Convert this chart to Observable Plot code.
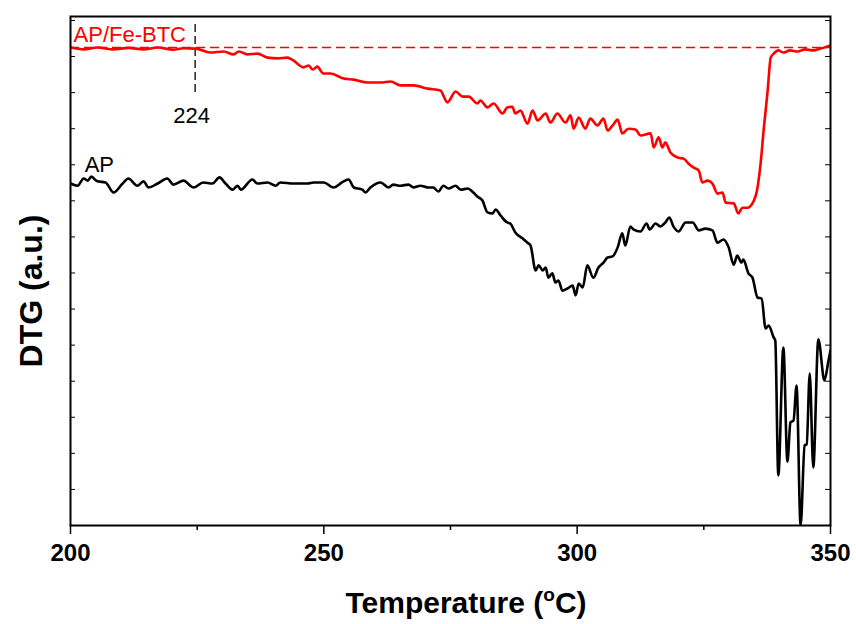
<!DOCTYPE html>
<html><head><meta charset="utf-8">
<script src="https://cdn.jsdelivr.net/npm/d3@7"></script>
<script src="https://cdn.jsdelivr.net/npm/@observablehq/plot@0.6"></script>
<style>body{margin:0;background:#fff}</style>
</head><body><div id="chart"></div>
<script>
// AP/Fe-BTC DTG curve (temperature in °C, DTG in arbitrary units)
const tempFe = [200.0,202.6,205.3,208.5,211.4,214.4,217.2,220.3,222.3,224.7,227.6,230.2,232.2,233.2,234.9,236.9,238.9,240.9,242.8,244.0,246.0,247.0,247.8,248.7,249.9,251.3,253.9,255.9,258.6,261.2,263.2,265.1,267.7,270.5,273.0,274.4,276.0,277.4,278.6,280.3,280.9,282.3,283.5,285.3,286.2,287.2,287.8,288.8,290.2,291.2,292.2,293.8,294.7,296.1,297.7,298.7,299.3,300.3,301.6,302.6,304.0,305.2,306.0,307.0,308.0,308.9,310.1,311.5,312.5,314.5,315.1,316.1,316.8,317.4,318.4,319.8,321.0,322.0,323.0,324.0,324.7,325.7,326.7,327.7,328.7,329.3,330.9,331.8,332.6,333.6,334.6,335.6,336.2,336.8,337.6,338.2,338.8,339.7,340.7,342.0,343.5,345.0,346.6,348.0,350.0];
const dtgFe = [13.25,13.20,13.25,13.20,13.24,13.20,13.25,13.19,13.23,13.22,13.11,13.14,13.06,13.14,13.06,13.08,12.97,12.95,12.97,12.89,12.70,12.75,12.64,12.72,12.53,12.53,12.39,12.36,12.28,12.28,12.31,12.20,12.20,12.11,12.06,11.73,12.03,11.89,11.89,11.70,11.78,11.59,11.70,11.42,11.59,11.61,11.42,11.50,11.14,11.50,11.23,11.42,11.17,11.42,11.17,11.37,11.00,11.31,11.00,11.28,11.09,11.28,10.95,11.09,11.25,10.87,11.00,10.98,10.81,10.87,10.48,10.76,10.48,10.62,10.34,10.20,10.17,10.03,9.92,9.84,9.51,9.56,9.48,9.20,9.23,8.95,8.93,8.65,8.81,8.81,8.93,9.37,10.03,10.95,12.06,12.97,13.08,13.17,13.11,13.17,13.14,13.20,13.17,13.22,13.31];

// AP DTG curve
const tempAP = [200.0,201.4,202.6,203.4,204.1,205.3,206.9,208.5,210.3,211.4,213.2,214.4,215.4,217.2,219.1,220.3,222.3,224.3,226.2,228.0,229.4,230.6,232.0,233.0,233.6,235.9,236.9,238.9,240.5,241.4,244.0,246.8,248.0,250.0,251.9,253.9,254.9,255.9,257.6,258.2,259.2,261.2,262.8,263.7,265.1,266.7,267.7,269.1,270.5,271.6,272.6,273.6,274.6,276.0,277.0,278.4,279.5,280.3,281.3,282.3,283.3,283.9,284.9,286.2,286.8,287.8,289.2,290.2,290.8,291.8,292.4,293.2,293.8,294.3,295.1,295.7,296.3,297.1,298.1,299.1,299.7,300.3,301.1,302.0,303.2,304.2,305.2,306.0,307.0,308.0,308.9,309.5,310.5,311.1,312.5,313.7,314.3,315.5,316.4,317.4,318.2,319.0,320.0,321.4,322.8,324.0,325.3,326.7,327.7,328.9,329.9,330.9,331.6,332.4,332.8,333.8,334.6,335.6,336.4,337.2,337.8,338.8,339.1,339.7,340.7,341.5,342.1,342.7,343.3,344.1,344.9,345.3,345.9,346.6,347.6,348.8,349.6,350.0];
const dtgAP = [9.48,9.42,9.62,9.56,9.67,9.54,9.51,9.23,9.48,9.62,9.42,9.54,9.37,9.48,9.62,9.45,9.56,9.37,9.51,9.48,9.65,9.48,9.31,9.42,9.31,9.59,9.48,9.51,9.42,9.51,9.48,9.48,9.51,9.51,9.37,9.54,9.59,9.37,9.31,9.23,9.37,9.51,9.37,9.45,9.42,9.45,9.37,9.42,9.37,9.37,9.26,9.42,9.34,9.42,9.31,9.34,9.23,9.12,9.01,8.68,8.65,8.76,8.59,8.40,8.37,8.12,7.96,7.84,7.76,7.07,7.21,7.07,7.15,6.87,6.99,6.74,6.79,6.51,6.57,6.65,6.38,6.71,6.60,7.21,6.87,7.15,7.29,7.43,7.46,7.71,8.10,7.76,8.29,8.21,8.15,8.37,8.21,8.37,8.29,8.40,8.54,8.29,8.15,8.40,8.40,8.18,8.23,8.18,7.84,7.93,7.71,7.23,7.48,7.29,7.37,6.99,6.87,6.32,6.29,5.46,5.54,5.21,5.13,1.39,4.93,1.77,2.86,2.91,3.88,0.00,2.22,2.25,4.21,1.61,5.16,4.02,4.57,4.85];

// annotations
const baselineFe = 13.25;
const onsetT = 224.6;
const onsetRange = [12.0, 14.0];
const onsetLabel = "224";
const seriesLabels = ["AP/Fe-BTC", "AP"];
const labelPos = [{x: 200.6, y: 13.39}, {x: 202.8, y: 9.79}];

// axes
const xDomain = [200, 350];
const yDomain = [0, 14.11];
const xMajor = [200, 250, 300, 350];
const xMinor = [225, 275, 325];
const yTicks = d3.range(0, 15);
const xTitle = "Temperature (";
const yTitle = "DTG (a.u.)";

const fe = tempFe.map((t, i) => ({t, v: dtgFe[i]}));
const ap = tempAP.map((t, i) => ({t, v: dtgAP[i]}));

const W = 856, H = 624, ML = 70, MR = 26, MT = 16, MB = 99;

const chart = Plot.plot({
  width: W, height: H,
  marginLeft: ML, marginRight: MR, marginTop: MT, marginBottom: MB,
  style: {fontFamily: "'Liberation Sans', Arial, sans-serif", background: "white", color: "black"},
  x: {domain: xDomain},
  y: {domain: yDomain, axis: null},
  marks: [
    Plot.ruleY([baselineFe], {stroke: "#ff0000", strokeWidth: 1.5, strokeDasharray: "9,5"}),
    Plot.ruleX([onsetT], {x: d => d, y1: onsetRange[0], y2: onsetRange[1], stroke: "black", strokeWidth: 1.3, strokeDasharray: "8,4"}),
    Plot.line(ap, {x: "t", y: "v", stroke: "black", strokeWidth: 2.6, curve: "monotone-x", clip: true}),
    Plot.line(fe, {x: "t", y: "v", stroke: "#ff0000", strokeWidth: 2.6, curve: "monotone-x", clip: true}),
    Plot.tickY(yTicks, {y: d => d, insetRight: W - ML - MR - 5, stroke: "black", strokeWidth: 1}),
    Plot.tickY(yTicks, {y: d => d, insetLeft: W - ML - MR - 5, stroke: "black", strokeWidth: 1}),
    Plot.axisX({ticks: xMajor, tickSize: 9, tickPadding: 9, fontSize: 24, fontWeight: "bold", label: null, tickFormat: d => String(d), strokeWidth: 1.5}),
    Plot.axisX({ticks: xMinor, tickSize: 5, tickFormat: () => "", label: null, strokeWidth: 1.5}),
    Plot.frame({stroke: "black", strokeWidth: 2}),
    Plot.text([seriesLabels[0]], {x: labelPos[0].x, y: labelPos[0].y, text: d => d, fill: "#ff0000", fontSize: 22, textAnchor: "start", lineAnchor: "bottom"}),
    Plot.text([seriesLabels[1]], {x: labelPos[1].x, y: labelPos[1].y, text: d => d, fill: "black", fontSize: 22, textAnchor: "start", lineAnchor: "bottom"}),
    Plot.text([onsetLabel], {x: onsetT - 0.7, y: 11.17, text: d => d, fill: "black", fontSize: 22, textAnchor: "middle", lineAnchor: "bottom"})
  ]
});

const svg = d3.select(chart);
const xt = svg.append("text")
  .attr("x", 466).attr("y", 613)
  .attr("text-anchor", "middle")
  .attr("font-size", 30).attr("font-weight", "bold")
  .attr("font-family", "'Liberation Sans', Arial, sans-serif")
  .attr("fill", "black");
xt.append("tspan").text(xTitle);
xt.append("tspan").attr("font-size", 19).attr("dy", -12).text("o");
xt.append("tspan").attr("dy", 12).text("C)");

svg.append("text")
  .attr("transform", "translate(42,291) rotate(-90)")
  .attr("text-anchor", "middle")
  .attr("font-size", 32).attr("font-weight", "bold")
  .attr("font-family", "'Liberation Sans', Arial, sans-serif")
  .attr("fill", "black")
  .text(yTitle);

document.getElementById("chart").appendChild(chart);
</script>
</body></html>
